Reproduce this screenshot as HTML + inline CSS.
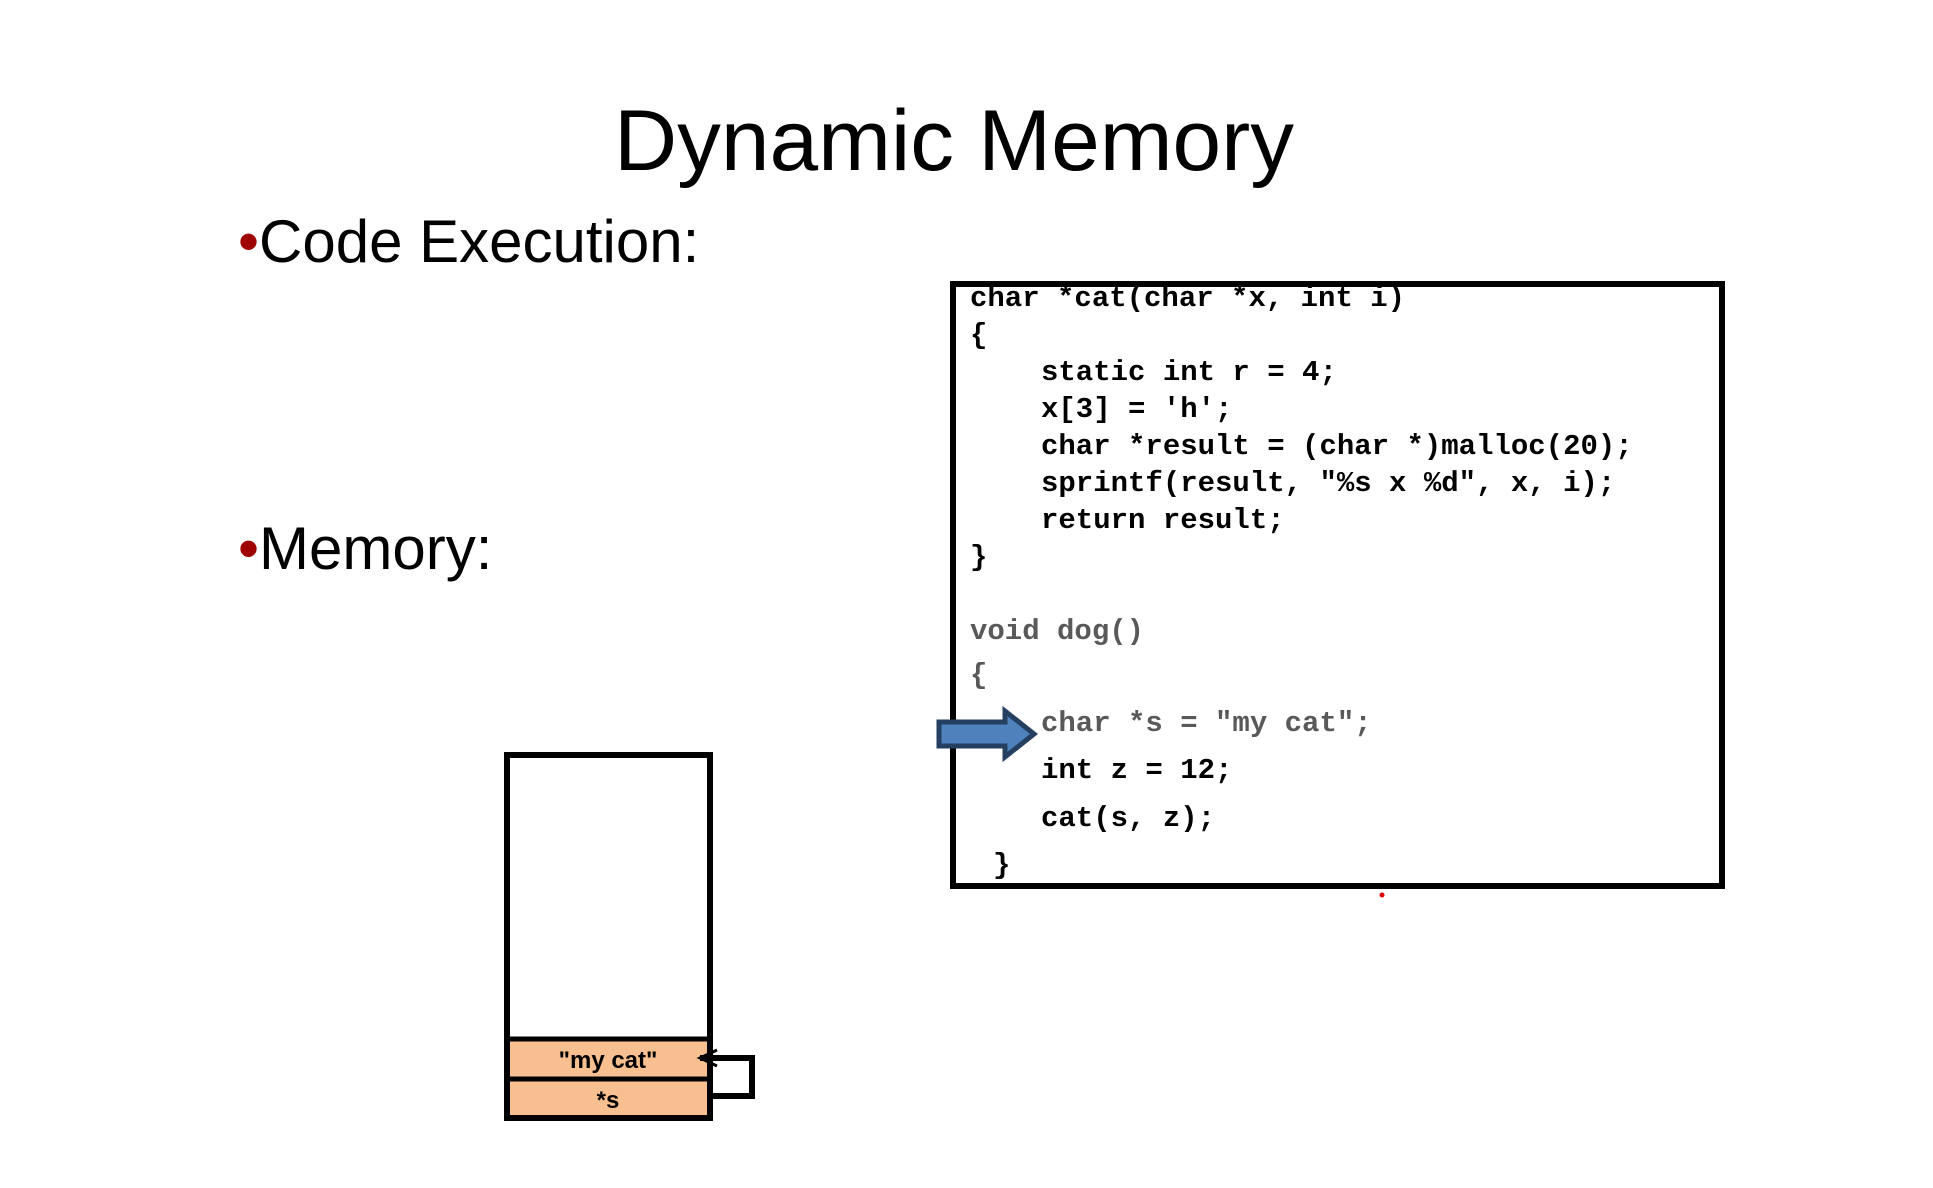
<!DOCTYPE html>
<html><head><meta charset="utf-8"><style>
html,body{margin:0;padding:0;background:#fff;}
body{width:1933px;height:1183px;overflow:hidden;position:relative;}
</style></head><body>
<svg width="1933" height="1183" viewBox="0 0 1933 1183" xmlns="http://www.w3.org/2000/svg">
<text x="954" y="170" text-anchor="middle" font-family="Liberation Sans, sans-serif" font-size="86" fill="#000" textLength="680" lengthAdjust="spacingAndGlyphs">Dynamic Memory</text>
<text x="238" y="262" font-family="Liberation Sans, sans-serif" font-size="60"><tspan fill="#a00000">•</tspan><tspan fill="#000">Code Execution:</tspan></text>
<text x="238" y="569" font-family="Liberation Sans, sans-serif" font-size="60"><tspan fill="#a00000">•</tspan><tspan fill="#000">Memory:</tspan></text>

<rect x="953" y="284" width="769" height="602" fill="#fff" stroke="#000" stroke-width="6"/>
<g font-family="Liberation Mono, monospace" font-weight="bold" font-size="29" fill="#000">
<text x="970" y="306">char *cat(char *x, int i)</text>
<text x="970" y="343">{</text>
<text x="1041" y="380">static int r = 4;</text>
<text x="1041" y="417">x[3] = 'h';</text>
<text x="1041" y="454">char *result = (char *)malloc(20);</text>
<text x="1041" y="491">sprintf(result, "%s x %d", x, i);</text>
<text x="1041" y="528">return result;</text>
<text x="970" y="565">}</text>
<text x="970" y="639" fill="#595959">void dog()</text>
<text x="970" y="683" fill="#595959">{</text>
<text x="1041" y="731" fill="#595959">char *s = "my cat";</text>
<text x="1041" y="778">int z = 12;</text>
<text x="1041" y="826">cat(s, z);</text>
<text x="993" y="873">}</text>
</g>
<polygon points="939,722 1005,722 1005,711 1034,734 1005,757 1005,746 939,746" fill="#4f81bd" stroke="#243f60" stroke-width="5"/>
<circle cx="1382" cy="895" r="2.5" fill="#e00000"/>

<rect x="507" y="755" width="203" height="363" fill="#fff" stroke="#000" stroke-width="6"/>
<rect x="510" y="1040" width="197" height="37" fill="#f8c090"/>
<rect x="510" y="1081" width="197" height="34" fill="#f8c090"/>
<line x1="507" y1="1039" x2="710" y2="1039" stroke="#000" stroke-width="5"/>
<line x1="507" y1="1079" x2="710" y2="1079" stroke="#000" stroke-width="5"/>
<g font-family="Liberation Sans, sans-serif" font-weight="bold" font-size="24" fill="#000" text-anchor="middle">
<text x="608" y="1068">"my cat"</text>
<text x="608" y="1108">*s</text>
</g>
<polyline points="710,1096 752,1096 752,1058 700,1058" fill="none" stroke="#000" stroke-width="6"/>
<polyline points="717,1050 700,1058 717,1066" fill="none" stroke="#000" stroke-width="3"/>
</svg>
</body></html>
